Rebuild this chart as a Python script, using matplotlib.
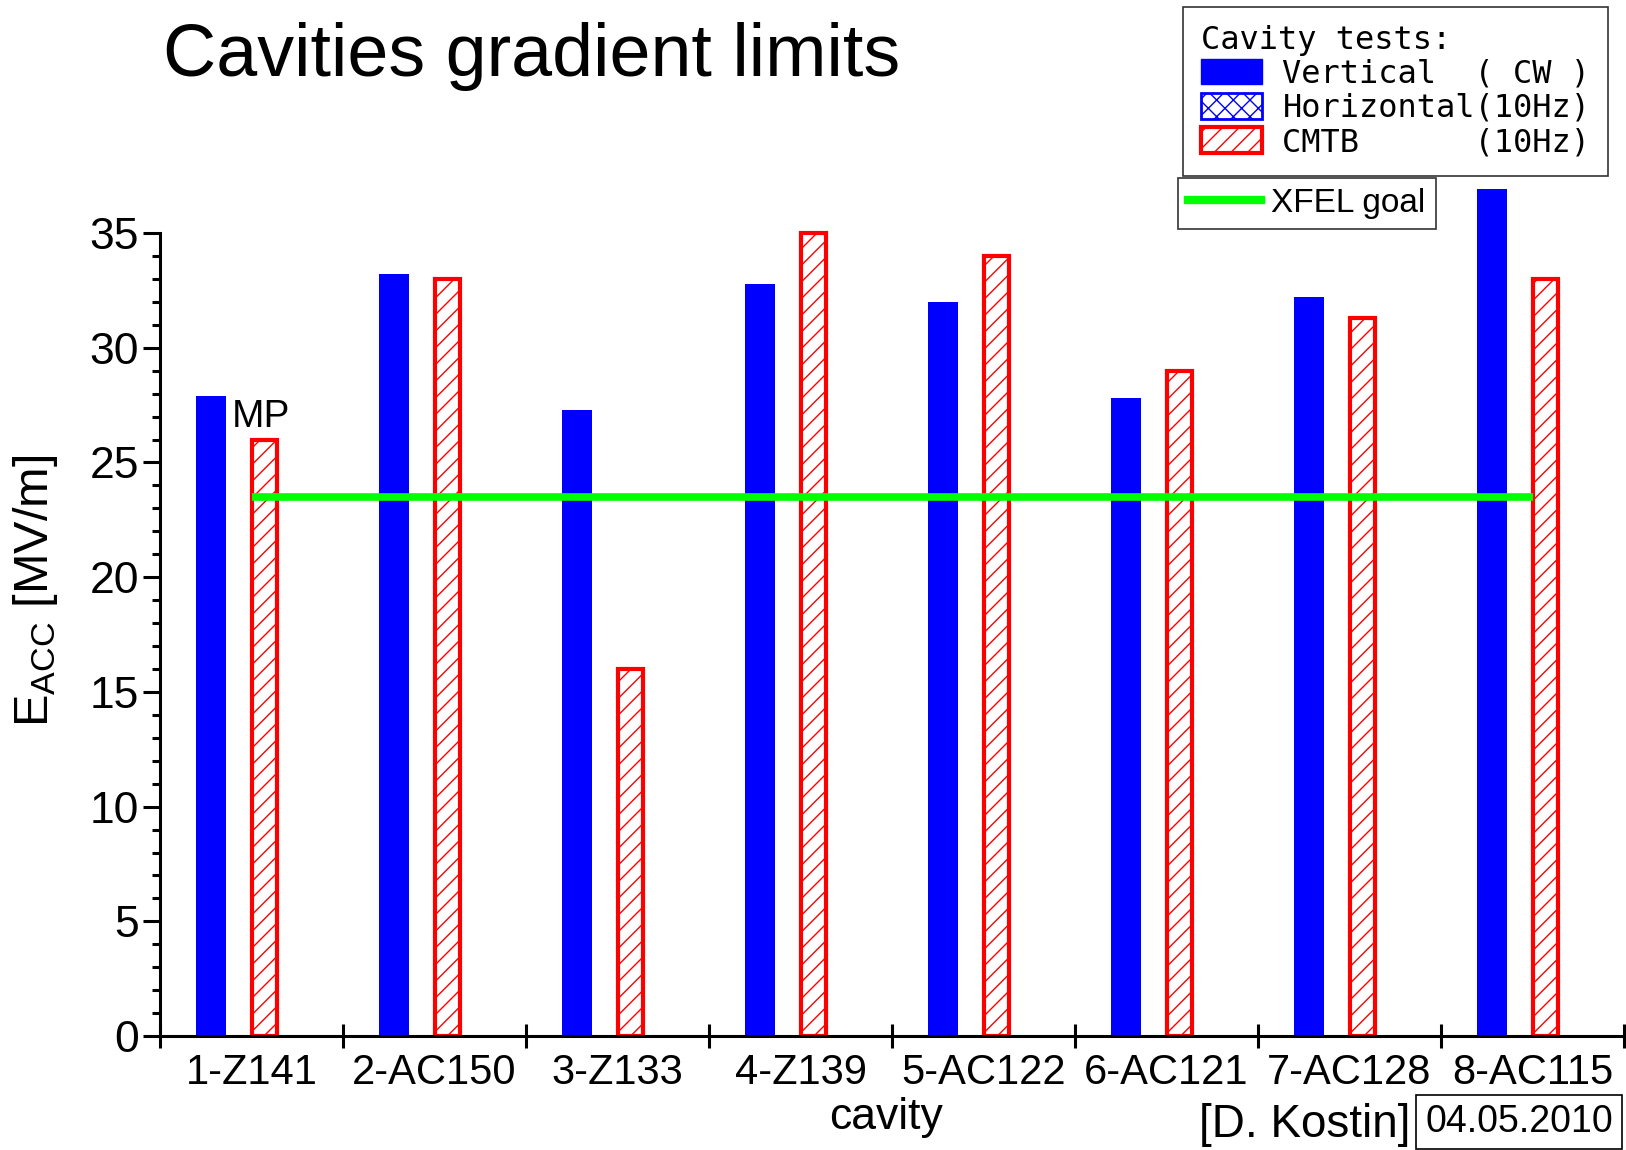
import matplotlib
matplotlib.use("Agg")
import matplotlib.pyplot as plt
from matplotlib.lines import Line2D
from matplotlib.patches import Patch
from matplotlib.ticker import FixedLocator, NullFormatter

cavities = ["1-Z141", "2-AC150", "3-Z133", "4-Z139", "5-AC122", "6-AC121", "7-AC128", "8-AC115"]
vertical_cw = [27.9, 33.2, 27.3, 32.8, 32.0, 27.8, 32.2, 36.9]
cmtb_10hz = [26.0, 33.0, 16.0, 35.0, 34.0, 29.0, 31.3, 33.0]
xfel_goal = 23.5

plt.rcParams["font.family"] = ["Liberation Sans", "DejaVu Sans"]
plt.rcParams["mathtext.default"] = "regular"
plt.rcParams["hatch.linewidth"] = 1.0

fig = plt.figure(figsize=(16.26, 11.5), dpi=100)
ax = fig.add_axes([0.0984, 0.0991, 0.9004, 0.7481])

n = len(cavities)
pos = list(range(n))
ax.bar([p + 0.277 for p in pos], vertical_cw, width=0.163, color="#0000ff", zorder=2)
ax.bar([p + 0.571 for p in pos], cmtb_10hz, width=0.141, facecolor="white",
       edgecolor="#ff0000", hatch="//", linewidth=3, zorder=2)
ax.plot([0.5, n - 0.5], [xfel_goal, xfel_goal], color="#00ff00", lw=5.5,
        solid_capstyle="butt", zorder=3)

# multipacting note on the first cavity
ax.text(0.39, 27.0, "MP", fontsize=28, ha="left", va="center")

ax.set_xlim(0, n)
ax.set_ylim(0, 37.5)
for s in ("top", "right"):
    ax.spines[s].set_visible(False)
ax.spines["left"].set_bounds(0, 35)
ax.spines["left"].set_linewidth(2.2)
ax.spines["bottom"].set_linewidth(2.2)

ax.xaxis.set_major_locator(FixedLocator(range(n + 1)))
ax.xaxis.set_major_formatter(NullFormatter())
ax.xaxis.set_minor_locator(FixedLocator([p + 0.5 for p in pos]))
ax.set_xticklabels(cavities, minor=True, fontsize=30)
ax.tick_params(axis="x", which="major", direction="inout", length=17, width=2.2)
ax.tick_params(axis="x", which="minor", length=0, pad=12)

ax.yaxis.set_major_locator(FixedLocator(range(0, 36, 5)))
ax.yaxis.set_minor_locator(FixedLocator(range(0, 36)))
ax.tick_params(axis="y", which="major", direction="out", length=12, width=2.2, pad=3,
               labelsize=32)
ax.tick_params(axis="y", which="minor", direction="out", length=6, width=2.2)

fig.text(36 / 1626, 1 - 591 / 1150, "E$_{ACC}$ [MV/m]", rotation=90,
         fontsize=35, ha="center", va="center")
fig.text(886 / 1626, 1 - 1117 / 1150, "cavity", fontsize=32, ha="center", va="center")
fig.text(163 / 1626, 1 - 76 / 1150, "Cavities gradient limits", fontsize=53,
         ha="left", va="baseline")
fig.text(1410 / 1626, 1 - 1125 / 1150, "[D. Kostin]", fontsize=33, ha="right", va="center")
fig.text(1519 / 1626, 1 - 1122 / 1150, "04.05.2010", fontsize=27, ha="center", va="center",
         bbox=dict(boxstyle="square,pad=0.25", facecolor="white", edgecolor="black", lw=1.2))

handles = [
    Patch(facecolor="#0000ff", edgecolor="#0000ff"),
    Patch(facecolor="white", edgecolor="#0000ff", hatch="xx", lw=2),
    Patch(facecolor="white", edgecolor="#ff0000", hatch="//", lw=3),
]
labels = ["Vertical  ( CW )", "Horizontal(10Hz)", "CMTB      (10Hz)"]
mono = {"family": "DejaVu Sans Mono", "size": 23}
leg1 = fig.legend(handles, labels, loc="upper right",
                  bbox_to_anchor=(1608 / 1626, 1 - 7 / 1150), borderaxespad=0,
                  prop=mono, title="Cavity tests:", title_fontproperties=mono,
                  alignment="left", fancybox=False, framealpha=1,
                  edgecolor="#333333", handlelength=1.9, handleheight=0.85,
                  handletextpad=0.65, labelspacing=0.1, borderpad=0.55)
leg1.get_frame().set_linewidth(1.2)

leg2 = fig.legend([Line2D([], [], color="#00ff00", lw=6)], ["XFEL goal"],
                  loc="upper left", bbox_to_anchor=(1178 / 1626, 1 - 178 / 1150),
                  borderaxespad=0, prop={"size": 24}, fancybox=False, framealpha=1,
                  edgecolor="#333333", handlelength=2.2, handletextpad=0.3,
                  borderpad=0.3)
leg2.get_frame().set_linewidth(1.2)

fig.savefig("out.png", dpi=100)
